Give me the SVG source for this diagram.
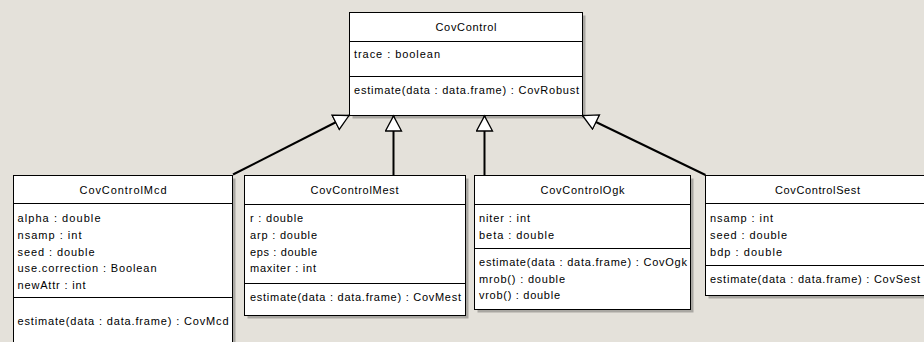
<svg xmlns="http://www.w3.org/2000/svg" width="924" height="342" viewBox="0 0 924 342">
<defs>
<style>
.bg{fill:#e4e1da}
.box{fill:#ffffff;stroke:#000000;stroke-width:1}
.sh{fill:#a9a7a2}
.div{stroke:#000000;stroke-width:1}
text{font-family:"Liberation Sans",Arial,sans-serif;font-size:11px;fill:#000000}
.hd{text-anchor:middle}
.conn{stroke:#000000;stroke-width:2;fill:none}
</style>
<marker id="gen" markerUnits="userSpaceOnUse" markerWidth="20" markerHeight="20" refX="16" refY="9" orient="auto">
<path d="M1,1 L16,9 L1,17 Z" fill="#ffffff" stroke="#000000" stroke-width="1.3" stroke-linejoin="miter"/>
</marker>
</defs>
<rect class="bg" x="0" y="0" width="924" height="342"/>

<g id="CovControl">
<rect class="sh" x="352.5" y="15.5" width="233" height="103"/>
<rect class="box" x="349.5" y="12.5" width="233" height="103"/>
<line class="div" x1="349.5" y1="41.5" x2="582.5" y2="41.5"/>
<line class="div" x1="349.5" y1="76.5" x2="582.5" y2="76.5"/>
<text class="hd" x="466" y="31" textLength="61" lengthAdjust="spacing">CovControl</text>
<text x="354" y="57.5" textLength="86" lengthAdjust="spacing">trace : boolean</text>
<text x="354" y="94" textLength="225" lengthAdjust="spacing">estimate(data : data.frame) : CovRobust</text>
</g>

<g id="CovControlMcd">
<rect class="sh" x="16.5" y="178.5" width="219" height="180"/>
<rect class="box" x="13.5" y="175.5" width="219" height="180"/>
<line class="div" x1="13.5" y1="203.5" x2="232.5" y2="203.5"/>
<line class="div" x1="13.5" y1="297.5" x2="232.5" y2="297.5"/>
<text class="hd" x="123" y="194" textLength="87" lengthAdjust="spacing">CovControlMcd</text>
<text x="17.5" y="222.3" textLength="83" lengthAdjust="spacing">alpha : double</text>
<text x="17.5" y="238.9" textLength="64" lengthAdjust="spacing">nsamp : int</text>
<text x="17.5" y="255.5" textLength="77" lengthAdjust="spacing">seed : double</text>
<text x="17.5" y="272.1" textLength="139" lengthAdjust="spacing">use.correction : Boolean</text>
<text x="17.5" y="288.7" textLength="68" lengthAdjust="spacing">newAttr : int</text>
<text x="17.5" y="325" textLength="211" lengthAdjust="spacing">estimate(data : data.frame) : CovMcd</text>
</g>

<g id="CovControlMest">
<rect class="sh" x="247.5" y="178.5" width="221" height="140"/>
<rect class="box" x="244.5" y="175.5" width="221" height="140"/>
<line class="div" x1="244.5" y1="204.5" x2="465.5" y2="204.5"/>
<line class="div" x1="244.5" y1="283.5" x2="465.5" y2="283.5"/>
<text class="hd" x="354.5" y="194" textLength="88" lengthAdjust="spacing">CovControlMest</text>
<text x="250" y="222.3" textLength="53" lengthAdjust="spacing">r : double</text>
<text x="250" y="238.9" textLength="67" lengthAdjust="spacing">arp : double</text>
<text x="250" y="255.5" textLength="67" lengthAdjust="spacing">eps : double</text>
<text x="250" y="271.9" textLength="66" lengthAdjust="spacing">maxiter : int</text>
<text x="250" y="300.7" textLength="211" lengthAdjust="spacing">estimate(data : data.frame) : CovMest</text>
</g>

<g id="CovControlOgk">
<rect class="sh" x="477.5" y="178.5" width="216" height="134"/>
<rect class="box" x="474.5" y="175.5" width="216" height="134"/>
<line class="div" x1="474.5" y1="204.5" x2="690.5" y2="204.5"/>
<line class="div" x1="474.5" y1="248.5" x2="690.5" y2="248.5"/>
<text class="hd" x="582.5" y="194" textLength="84" lengthAdjust="spacing">CovControlOgk</text>
<text x="479" y="222.3" textLength="51" lengthAdjust="spacing">niter : int</text>
<text x="479" y="238.9" textLength="75" lengthAdjust="spacing">beta : double</text>
<text x="479" y="266" textLength="208" lengthAdjust="spacing">estimate(data : data.frame) : CovOgk</text>
<text x="479" y="282.7" textLength="86" lengthAdjust="spacing">mrob() : double</text>
<text x="479" y="299.3" textLength="81" lengthAdjust="spacing">vrob() : double</text>
</g>

<g id="CovControlSest">
<rect class="sh" x="708.5" y="178.5" width="230" height="120"/>
<rect class="box" x="705.5" y="175.5" width="230" height="120"/>
<line class="div" x1="705.5" y1="203.5" x2="935.5" y2="203.5"/>
<line class="div" x1="705.5" y1="265.5" x2="935.5" y2="265.5"/>
<text class="hd" x="817.5" y="194" textLength="85" lengthAdjust="spacing">CovControlSest</text>
<text x="710" y="222.3" textLength="63" lengthAdjust="spacing">nsamp : int</text>
<text x="710" y="238.9" textLength="77" lengthAdjust="spacing">seed : double</text>
<text x="710" y="255.5" textLength="72" lengthAdjust="spacing">bdp : double</text>
<text x="710" y="283.3" textLength="210" lengthAdjust="spacing">estimate(data : data.frame) : CovSest</text>
</g>

<g id="connectors">
<path class="conn" d="M233,174.5 L349,115.5" marker-end="url(#gen)"/>
<path class="conn" d="M393.5,175 L393.5,116" marker-end="url(#gen)"/>
<path class="conn" d="M484.5,175 L484.5,116" marker-end="url(#gen)"/>
<path class="conn" d="M705.5,175 L582.5,115.5" marker-end="url(#gen)"/>
</g>
</svg>
